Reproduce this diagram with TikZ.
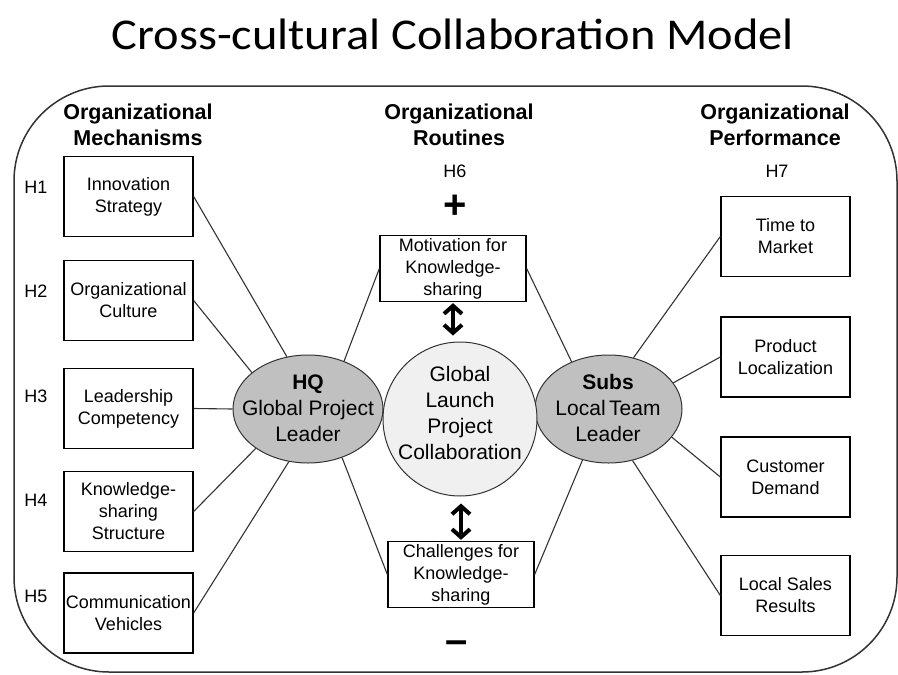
\documentclass[tikz,border=0pt]{standalone}
\usepackage{fontspec}
\setmainfont{Liberation Sans}
\newfontfamily\titlefont[FakeStretch=1.1]{Carlito}
\usetikzlibrary{arrows.meta,shapes.geometric}
\definecolor{linegray}{HTML}{333333}
\definecolor{ellfill}{HTML}{C0C0C0}
\definecolor{circfill}{HTML}{F0F0F0}
\tikzset{
  mbox/.style={draw=black, line width=1.3pt, minimum width=129pt, minimum height=80pt,
    inner sep=0pt, align=center, font=\fontsize{18}{22}\selectfont},
  midbox/.style={draw=black, line width=1.3pt, minimum width=146pt, minimum height=66pt,
    inner sep=0pt, align=center, font=\fontsize{18}{22}\selectfont},
  header/.style={align=center, anchor=base, font=\fontsize{21.5}{26}\selectfont\bfseries},
  hlabel/.style={anchor=base, font=\fontsize{18}{22}\selectfont},
  leader/.style={ellipse, draw=linegray, line width=1pt, fill=ellfill,
    minimum width=150pt, minimum height=108pt, inner sep=0pt},
  bigtext/.style={align=center, font=\fontsize{21}{26}\selectfont},
  conn/.style={draw=linegray, line width=1.1pt},
  dbl/.style={line width=4pt, {Straight Barb[length=8pt,width=18pt]}-{Straight Barb[length=8pt,width=18pt]}}
}
\begin{document}
\begin{tikzpicture}[x=1pt,y=-1pt]
\useasboundingbox (0,0) rectangle (898,675);
% outer frame
\draw[draw=linegray, line width=1.5pt, rounded corners=95pt] (14,86) rectangle (897,672);
% title
\node[anchor=base, font=\titlefont\fontsize{44}{50}\selectfont] (title) at (453,49) {Cross-cultural Collaboration Model};
% headers (anchor base = last line)
\node[header] (hm) at (138,145) {Organizational\\Mechanisms};
\node[header] (hr) at (459,145) {Organizational\\Routines};
\node[header] (hp) at (775,145) {Organizational\\Performance};
% H labels
\node[hlabel] (lh1) at (36,193) {H1};
\node[hlabel] (lh2) at (36,297) {H2};
\node[hlabel] (lh3) at (36,402) {H3};
\node[hlabel] (lh4) at (36,506) {H4};
\node[hlabel] (lh5) at (36,602) {H5};
\node[hlabel] (lh6) at (455,177) {H6};
\node[hlabel] (lh7) at (777,177) {H7};
% left boxes
\node[mbox] (b1) at (128.5,196.5) {Innovation\\Strategy};
\node[mbox] (b2) at (128.5,300.5) {Organizational\\Culture};
\node[mbox] (b3) at (128.5,408.5) {Leadership\\Competency};
\node[mbox] (b4) at (128.5,511.5) {Knowledge-\\sharing\\Structure};
\node[mbox] (b5) at (128.5,613) {Communication\\Vehicles};
% right boxes
\node[mbox] (r1) at (785.5,236.5) {Time to\\Market};
\node[mbox] (r2) at (785.5,357) {Product\\Localization};
\node[mbox] (r3) at (785.5,477) {Customer\\Demand};
\node[mbox] (r4) at (785.5,595.5) {Local Sales\\Results};
% middle boxes
\node[midbox] (mot) at (453,268.5) {Motivation for\\Knowledge-\\sharing};
\node[midbox] (chal) at (461,574.5) {Challenges for\\Knowledge-\\sharing};
% ellipses and circle
\node[leader] (hq) at (308,409) {};
\node[leader, minimum width=147pt] (subs) at (608.5,409) {};
\node[circle, draw=linegray, line width=1pt, fill=circfill, minimum size=154pt, inner sep=0pt] (glp) at (460,419) {};
\node[bigtext] (hqtext) at (308,408) {\textbf{HQ}\\Global Project\\Leader};
\node[bigtext] (substext) at (608,408) {\textbf{Subs}\\Local\,Team\\Leader};
\node[bigtext] (glptext) at (460,413) {Global\\Launch\\Project\\Collaboration};
% plus / minus
\node[font=\fontsize{40}{40}\selectfont\bfseries] (plus) at (455,207) {+};
\node[font=\fontsize{40}{40}\selectfont\bfseries] (minus) at (457,647) {–};
% connectors left
\draw[conn] (b1.east) -- (hq.112);
\draw[conn] (b2.east) -- (hq.147);
\draw[conn] (b3.east) -- (hq.180);
\draw[conn] (b4.east) -- (hq.217);
\draw[conn] (b5.east) -- (hq.250);
\draw[conn] (mot.west) -- (hq.53);
\draw[conn] (chal.west) -- (hq.-55);
% connectors right
\draw[conn] (mot.east) -- (subs.128);
\draw[conn] (chal.east) -- (subs.243);
\draw[conn] (r1.west) -- (subs.64);
\draw[conn] (r2.west) -- (subs.22);
\draw[conn] (r3.west) -- (subs.-24);
\draw[conn] (r4.west) -- (subs.-65);
% double arrows
\draw[dbl, shorten >=6pt, shorten <=1pt] (mot.south) -- (mot.south |- glp.north);
\draw[dbl, shorten >=7pt, shorten <=1pt] (chal.north) -- (chal.north |- glp.south);
\end{tikzpicture}
\end{document}
